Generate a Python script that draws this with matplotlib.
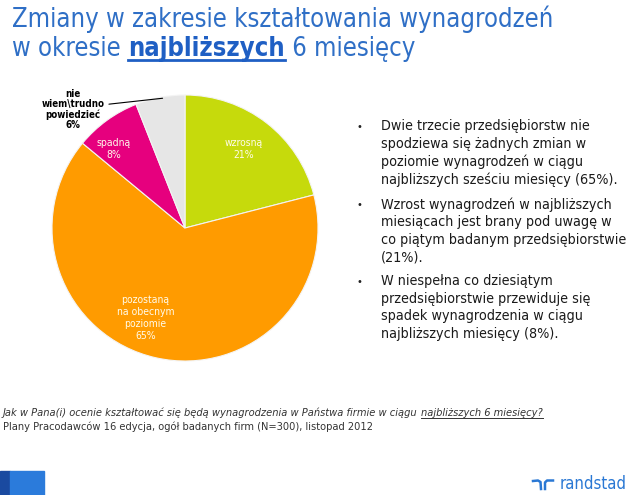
import numpy as np
import matplotlib.pyplot as plt
from matplotlib.patches import Rectangle
from matplotlib.lines import Line2D

# dane wykresu
categories = ['wzrosną', 'pozostaną\nna obecnym\npoziomie', 'spadną',
              'nie\nwiem\\trudno\npowiedzieć']
shares = [21, 65, 8, 6]
colors = ['#C6DA0C', '#FF9B00', '#E6007E', '#E6E6E6']

bullets = [
    'Dwie trzecie przedsiębiorstw nie\nspodziewa się żadnych zmian w\n'
    'poziomie wynagrodzeń w ciągu\nnajbliższych sześciu miesięcy (65%).',
    'Wzrost wynagrodzeń w najbliższych\nmiesiącach jest brany pod uwagę w\n'
    'co piątym badanym przedsiębiorstwie\n(21%).',
    'W niespełna co dziesiątym\nprzedsiębiorstwie przewiduje się\n'
    'spadek wynagrodzenia w ciągu\nnajbliższych miesięcy (8%).',
]

W, H = 640, 495
BLUE = '#2F6FC6'
FONT = 'DejaVu Sans'

plt.rcParams['font.family'] = [FONT]

fig = plt.figure(figsize=(W / 100, H / 100), dpi=100)
fig.patch.set_facecolor('white')
renderer = fig.canvas.get_renderer()


def px(x, y):
    """piksele (od lewego górnego rogu) -> współrzędne figury"""
    return x / W, 1 - y / H


def seq_text(x, y, parts, **common):
    """kilka kawałków tekstu w jednej linii, opcjonalnie podkreślonych"""
    fx, fy = px(x, y)
    for txt, kw, ulw in parts:
        opts = dict(common)
        opts.update(kw)
        t = fig.text(fx, fy, txt, va='baseline', ha='left', **opts)
        bb = t.get_window_extent(renderer)
        if ulw:
            uy = fy - (opts.get('fontsize', 10) * 0.16) / (H * 0.72)
            fig.add_artist(Line2D([bb.x0 / W, bb.x1 / W], [uy, uy],
                                  color=opts.get('color', 'k'), lw=ulw))
        fx = bb.x1 / W


# tytuł
title_kw = dict(fontsize=18.4, color=BLUE, fontstretch='condensed')
seq_text(12, 27, [('Zmiany w zakresie kształtowania wynagrodzeń', {}, 0)], **title_kw)
seq_text(12, 56, [('w okresie ', {}, 0),
                  ('najbliższych', dict(fontweight='bold', color='#1F5FC4'), 2.0),
                  (' 6 miesięcy', {}, 0)], **title_kw)

# wykres kołowy
cx, cy, r = 185, 228, 133
ax = fig.add_axes([(cx - r) / W, 1 - (cy + r) / H, 2 * r / W, 2 * r / H])
wedges, _ = ax.pie(shares, colors=colors, startangle=90, counterclock=False,
                   radius=1, wedgeprops=dict(edgecolor='#F4F4F4', linewidth=0.8))
ax.set_xlim(-1, 1)
ax.set_ylim(-1, 1)
ax.axis('off')

label_r = [0.74, 0.74, 0.80]
label_shift = [1, -11, 6]
for i in range(3):
    w = wedges[i]
    ang = np.deg2rad((w.theta1 + w.theta2) / 2 + label_shift[i])
    ax.text(label_r[i] * np.cos(ang), label_r[i] * np.sin(ang),
            f'{categories[i]}\n{shares[i]}%', ha='center', va='center',
            fontsize=7.5, color='#FFFBEA', linespacing=1.25,
            fontstretch='condensed')

# etykieta "nie wiem"
w = wedges[3]
ang = np.deg2rad((w.theta1 + w.theta2) / 2 - 1)
ax.annotate(f'{categories[3]}\n{shares[3]}%',
            xy=(0.99 * np.cos(ang), 0.99 * np.sin(ang)), xytext=(-0.84, 0.89),
            ha='center', va='center', fontsize=7, fontweight='bold',
            color='black', linespacing=1.05, fontstretch='condensed',
            annotation_clip=False,
            arrowprops=dict(arrowstyle='-', color='black', lw=0.8,
                            relpos=(1.0, 0.62), shrinkA=1, shrinkB=0))

# punkty po prawej
tops = [127, 205, 282]
for top, txt in zip(tops, bullets):
    bx, by = px(357, top)
    fig.text(bx, by, '•', fontsize=7, ha='left', va='center', color='#222222')
    tx, ty = px(381, top - 8)
    fig.text(tx, ty, txt, fontsize=10.3, ha='left', va='top', color='#1A1A1A',
             linespacing=1.32, fontstretch='condensed')

# pytanie i źródło
q_kw = dict(fontsize=7.95, color='#333333', style='italic', fontstretch='condensed')
seq_text(3, 416, [('Jak w Pana(i) ocenie kształtować się będą wynagrodzenia w Państwa firmie w ciągu ', {}, 0),
                  ('najbliższych 6 miesięcy?', {}, 0.7)], **q_kw)
seq_text(3, 430, [('Plany Pracodawców 16 edycja, ogół badanych firm (N=300), listopad 2012', {}, 0)],
         fontsize=7.9, color='#333333', fontstretch='condensed')

# stopka
fig.add_artist(Rectangle(px(0, 495), 10 / W, 24 / H, color='#1A4AA0', transform=fig.transFigure))
fig.add_artist(Rectangle(px(10, 495), 34 / W, 24 / H, color='#2B7BDB', transform=fig.transFigure))

logo_c = '#2A78D4'
lx = np.array([533, 538, 540.5, 541])
ly = np.array([481, 480.5, 482, 489])
fig.add_artist(Line2D(lx / W, 1 - ly / H, color=logo_c, lw=1.8))
lx2 = np.array([545, 545, 547, 553])
ly2 = np.array([489, 482.5, 480.5, 480.5])
fig.add_artist(Line2D(lx2 / W, 1 - ly2 / H, color=logo_c, lw=1.8))
rx, ry = px(560, 489)
fig.text(rx, ry, 'randstad', fontsize=12, color=logo_c, ha='left', va='baseline',
         fontstretch='condensed')

fig.savefig('out.png', dpi=100)
